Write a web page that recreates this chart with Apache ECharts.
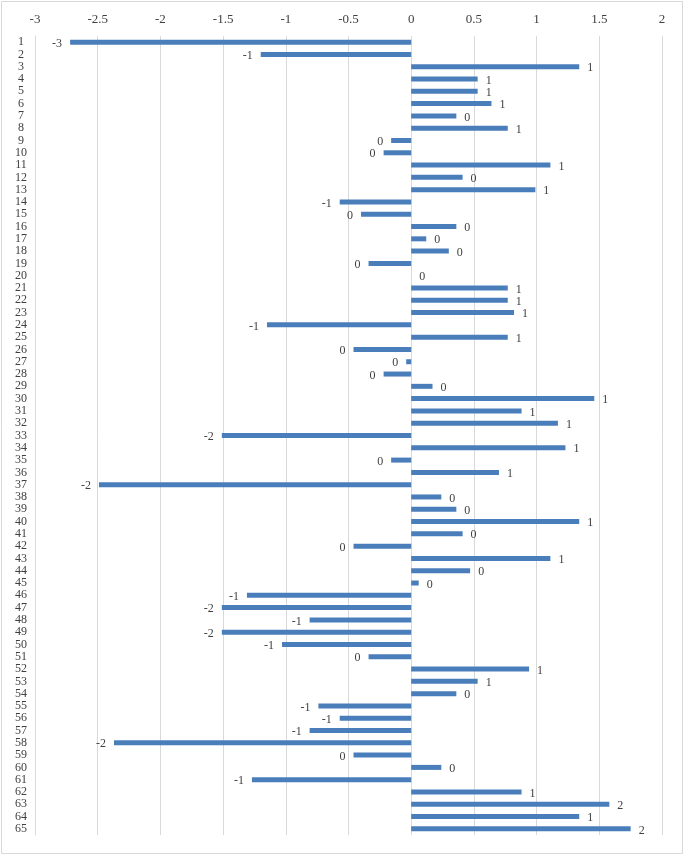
<!DOCTYPE html>
<html>
<head>
<meta charset="utf-8">
<script src="https://cdn.jsdelivr.net/npm/echarts@6/dist/echarts.min.js"></script>
<style>
html,body{margin:0;padding:0;background:#fff;}
#chart{width:685px;height:857px;}
</style>
</head>
<body>
<div id="chart"></div>
<script>
const categories = ['1','2','3','4','5','6','7','8','9','10','11','12','13','14','15','16','17','18','19','20',
  '21','22','23','24','25','26','27','28','29','30','31','32','33','34','35','36','37','38','39','40',
  '41','42','43','44','45','46','47','48','49','50','51','52','53','54','55','56','57','58','59','60',
  '61','62','63','64','65'];
const values = [-2.72,-1.2,1.34,0.53,0.53,0.64,0.36,0.77,-0.16,-0.22,
  1.11,0.41,0.99,-0.57,-0.4,0.36,0.12,0.3,-0.34,0,
  0.77,0.77,0.82,-1.15,0.77,-0.46,-0.04,-0.22,0.17,1.46,
  0.88,1.17,-1.51,1.23,-0.16,0.7,-2.49,0.24,0.36,1.34,
  0.41,-0.46,1.11,0.47,0.06,-1.31,-1.51,-0.81,-1.51,-1.03,
  -0.34,0.94,0.53,0.36,-0.74,-0.57,-0.81,-2.37,-0.46,0.24,
  -1.27,0.88,1.58,1.34,1.75];
const xTicks = {min:-3, max:2, interval:0.5};

const font = 'Liberation Serif';
const textColor = '#404040';
const chart = echarts.init(document.getElementById('chart'));
chart.setOption({
  animation:false,
  graphic:[{type:'rect',shape:{x:1.5,y:1.5,width:681,height:852},style:{fill:'none',stroke:'#d9d9d9',lineWidth:1}}],
  grid:{left:35,right:23,top:36,bottom:22},
  xAxis:{type:'value',position:'top',min:xTicks.min,max:xTicks.max,interval:xTicks.interval,
    axisLine:{show:false},axisTick:{show:false},
    splitLine:{show:true,lineStyle:{color:'#d9d9d9',width:1}},
    axisLabel:{color:textColor,fontFamily:font,fontSize:13,margin:10}},
  yAxis:{type:'category',inverse:true,data:categories,
    axisLine:{show:true,onZero:false,lineStyle:{color:'#d9d9d9'}},
    axisTick:{show:false},
    axisLabel:{color:textColor,fontFamily:font,fontSize:12,interval:0,align:'center',margin:14}},
  series:[{type:'bar',barWidth:5,
    data:values.map(v=>({value:v,label:{position: v<0?'left':'right'}})),
    itemStyle:{color:'#4A7EBB'},
    label:{show:true,distance:8,offset:[0,1.5],color:textColor,fontFamily:font,fontSize:12,
      formatter:p=>{const r=Math.round(Math.abs(p.value))*Math.sign(p.value);return r===0?'0':String(r);}}
  }]
});
</script>
</body>
</html>
